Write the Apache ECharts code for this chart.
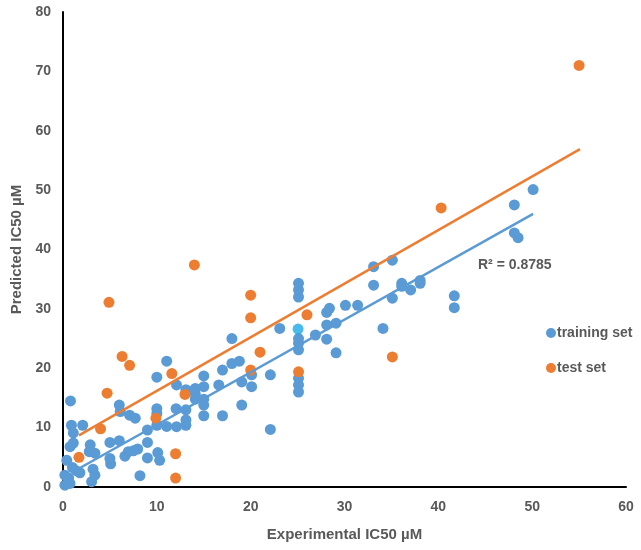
<!DOCTYPE html>
<html>
<head>
<meta charset="utf-8">
<script src="https://cdn.jsdelivr.net/npm/echarts@6/dist/echarts.min.js"></script>
<style>html,body{margin:0;padding:0;background:#fff;}#c{width:641px;height:550px;}</style>
</head>
<body>
<div id="c"></div>
<script>
const xTicks = [0, 10, 20, 30, 40, 50, 60];
const yTicks = [0, 10, 20, 30, 40, 50, 60, 70, 80];
const seriesNames = ['training set', 'test set'];

const trainingSet = [
  [0.8,14.5],[6.0,13.8],[6.1,12.7],[7.1,12.1],[7.7,11.6],[0.9,10.4],[2.1,10.4],[1.1,9.1],
  [10.0,13.2],[10.0,12.4],[10.0,10.4],[11.05,10.2],[9.0,9.6],[12.1,10.15],[1.1,7.4],[0.75,6.8],
  [2.9,7.1],[2.8,5.95],[3.4,5.7],[5.0,7.5],[6.0,7.8],[6.96,5.95],[7.5,6.1],[7.96,6.4],[6.6,5.2],
  [5.0,4.8],[5.08,3.9],[9.0,7.5],[9.0,4.9],[10.1,5.8],[10.3,4.5],[0.4,4.5],[1.0,3.3],[1.4,2.75],
  [1.8,2.4],[3.2,3.0],[3.4,2.0],[3.05,0.9],[8.2,1.9],[0.2,2.0],[0.6,1.5],[0.2,0.3],[0.75,0.6],
  [11.05,21.2],[10.0,18.5],[12.1,17.2],
  [18.0,25.0],[23.1,26.7],[18.0,20.8],[18.8,21.2],[17.0,19.7],[19.05,17.7],[20.1,18.9],[20.1,16.9],
  [22.1,18.9],[15.0,18.7],[16.6,17.2],[15.0,16.9],[13.1,16.4],[14.1,16.6],[14.1,15.7],[14.1,14.8],
  [15.0,14.8],[15.0,13.8],[12.05,13.2],[13.1,13.0],[13.1,11.3],[13.1,10.4],[15.0,12.0],[17.0,12.0],
  [19.05,13.8],[22.1,9.7],
  [25.1,34.3],[25.1,33.2],[25.1,32.0],[33.1,37.1],[35.1,38.2],[33.1,34.0],[36.1,34.3],[36.1,33.8],
  [37.05,33.2],[38.06,34.8],[38.06,34.3],[35.1,31.8],[30.1,30.6],[31.4,30.6],[28.4,30.1],[28.1,29.4],
  [28.1,27.3],[29.1,27.6],[26.9,25.6],[28.1,24.9],[29.1,22.6],[34.1,26.7],[25.1,25.0],[25.1,24.2],
  [25.1,23.1],[25.1,18.3],[25.1,17.2],[25.1,16.0],
  [50.1,50.1],[48.1,47.5],[48.1,42.8],[48.5,42.0],[41.7,32.2],[41.7,30.2]
];
const highlightPoint = [[25.05, 26.6]];

const testSet = [
  [55,71],[40.3,47],[35.1,21.9],[26,29],[25.1,19.4],[20,32.3],[20,28.5],[14,37.4],[21,22.7],
  [20,19.7],[11.6,19.1],[13,15.6],[12,5.6],[12,1.5],[9.9,11.6],[4,9.8],[4.7,15.8],[1.7,5],
  [4.9,31.1],[6.3,22],[7.1,20.5]
];

const trainingTrend = [[1.8, 3.2], [50.1, 46.0]];
const testTrend = [[1.7, 8.7], [55.1, 56.9]];
const r2Label = 'R² = 0.8785';

const grey = '#595959';
const font = 'Liberation Sans, Arial, sans-serif';
const chart = echarts.init(document.getElementById('c'), null, {renderer: 'canvas'});
chart.setOption({
  animation: false,
  backgroundColor: '#fff',
  grid: {left: 63, right: 15, top: 12, bottom: 63, containLabel: false},
  xAxis: {
    type: 'value', min: xTicks[0], max: xTicks[xTicks.length - 1], interval: 10,
    name: 'Experimental IC50 µM', nameLocation: 'middle', nameGap: 40,
    nameTextStyle: {color: grey, fontFamily: font, fontWeight: 'bold', fontSize: 15},
    axisLine: {show: true, onZero: false, lineStyle: {color: '#000', width: 2}},
    axisTick: {show: false},
    splitLine: {show: false},
    axisLabel: {color: grey, fontFamily: font, fontWeight: 'bold', fontSize: 14, margin: 13}
  },
  yAxis: {
    type: 'value', min: yTicks[0], max: yTicks[yTicks.length - 1], interval: 10,
    name: 'Predicted IC50 µM', nameLocation: 'middle', nameGap: 37,
    nameTextStyle: {color: grey, fontFamily: font, fontWeight: 'bold', fontSize: 15},
    axisLine: {show: true, onZero: false, lineStyle: {color: '#000', width: 2}},
    axisTick: {show: false},
    splitLine: {show: false},
    axisLabel: {color: grey, fontFamily: font, fontWeight: 'bold', fontSize: 14, margin: 12}
  },
  legend: {
    data: seriesNames.map(n => ({name: n, icon: 'circle'})),
    orient: 'vertical', left: 541, top: 321, itemGap: 21,
    itemWidth: 10, itemHeight: 10,
    textStyle: {color: grey, fontFamily: font, fontWeight: 'bold', fontSize: 14, padding: [0,0,0,-4]}
  },
  series: [
    {name: seriesNames[0], type: 'scatter', data: trainingSet, symbolSize: 11,
     itemStyle: {color: '#5B9BD5', opacity: 1}, z: 2},
    {name: 'highlight', type: 'scatter', data: highlightPoint, symbolSize: 11,
     itemStyle: {color: '#1AAAE8'}, z: 3},
    {name: seriesNames[1], type: 'scatter', data: testSet, symbolSize: 11,
     itemStyle: {color: '#ED7D31', opacity: 1}, z: 4},
    {name: 'trainTrend', type: 'line', data: trainingTrend, showSymbol: false, symbol: 'none',
     lineStyle: {color: '#5B9BD5', width: 2.5}, z: 5, silent: true},
    {name: 'testTrend', type: 'line', data: testTrend, showSymbol: false, symbol: 'none',
     lineStyle: {color: '#ED7D31', width: 2.5}, z: 5, silent: true}
  ],
  graphic: [{
    type: 'text', left: 478, top: 258,
    style: {text: r2Label, fill: grey, font: 'bold 14px ' + font}
  }]
});
</script>
</body>
</html>
